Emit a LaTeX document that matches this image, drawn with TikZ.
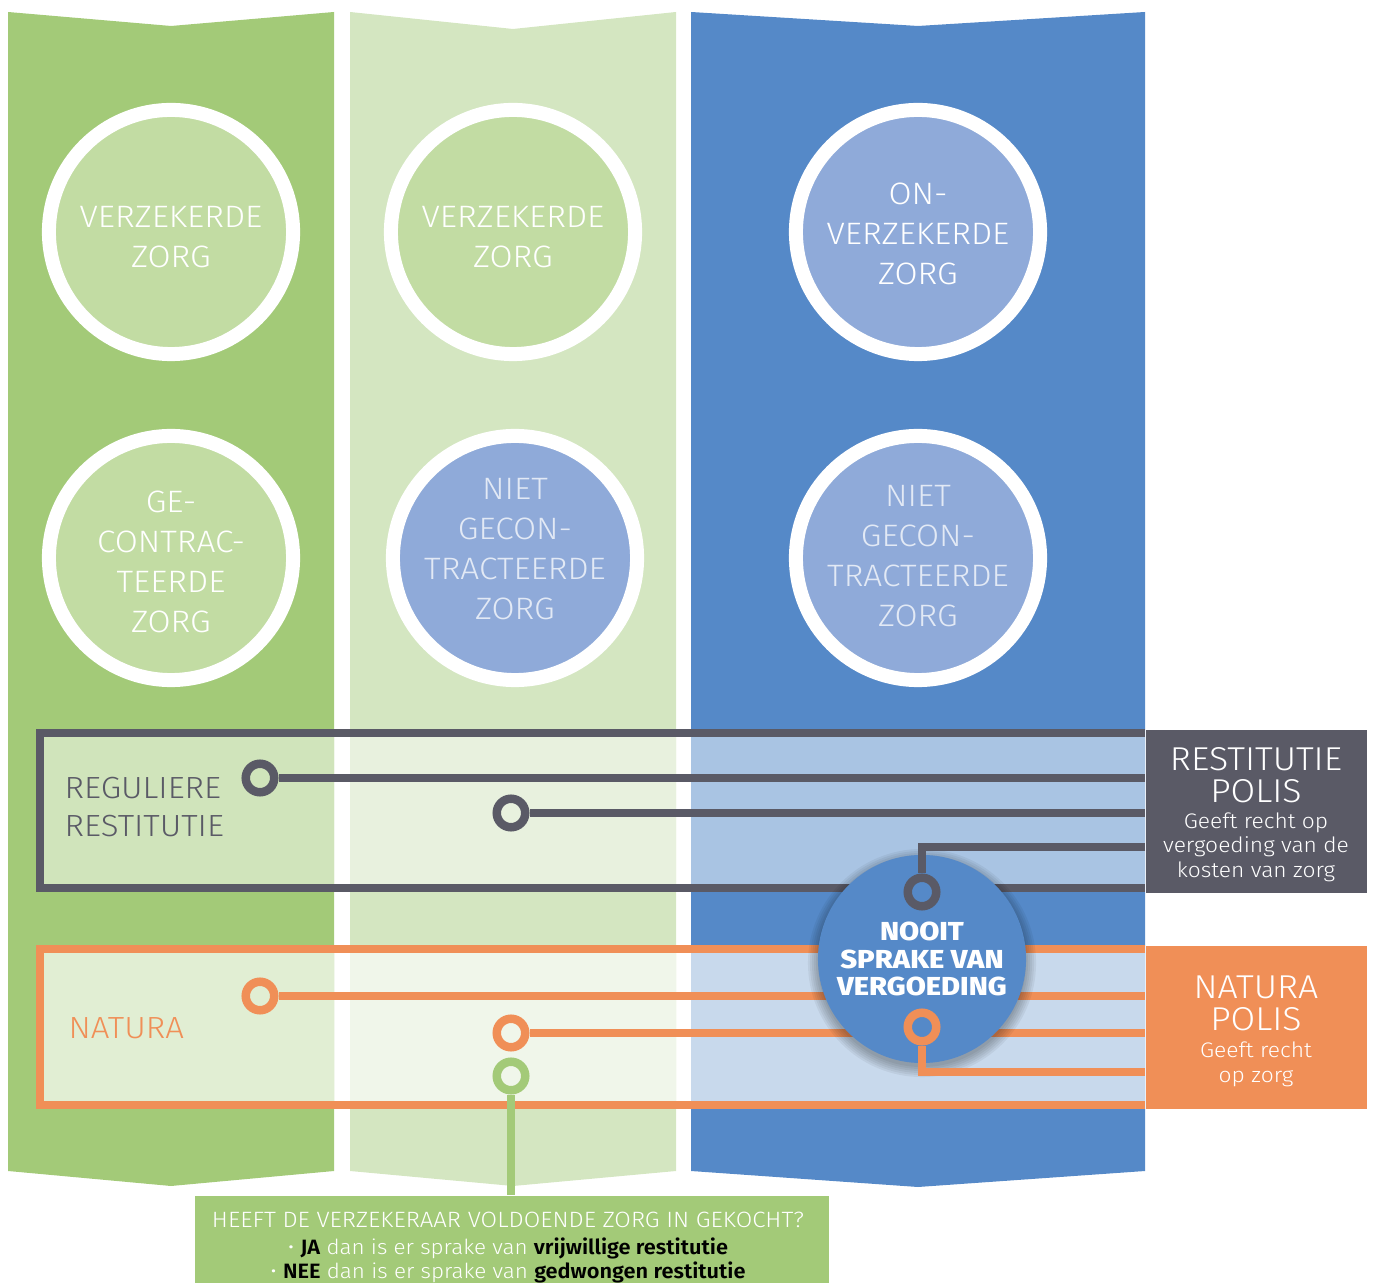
\documentclass[tikz,border=0pt]{standalone}
\usepackage{fontspec}
\setmainfont[FakeStretch=1.1]{Fira Sans}
\IfFontExistsTF{Fira Sans Book}
  {\newfontfamily\dunfont[FakeStretch=1.08]{Fira Sans Book}}
  {\IfFontExistsTF{Fira Sans Light}
    {\newfontfamily\dunfont[FakeStretch=1.08]{Fira Sans Light}}
    {\newfontfamily\dunfont[FakeStretch=1.08]{Fira Sans}}}
\IfFontExistsTF{Fira Sans ExtraBold}
  {\newfontfamily\zwaarfont[FakeStretch=1.12]{Fira Sans ExtraBold}}
  {\newfontfamily\zwaarfont[FakeStretch=1.12]{Fira Sans Bold}}
\IfFontExistsTF{Fira Sans SemiBold}
  {\newfontfamily\halfvetfont[FakeStretch=1.05]{Fira Sans SemiBold}}
  {\newfontfamily\halfvetfont[FakeStretch=1.05]{Fira Sans Bold}}

\definecolor{groen}{HTML}{A3CA78}
\definecolor{lichtgroen}{HTML}{D4E6C1}
\definecolor{blauw}{HTML}{5589C8}
\definecolor{schijfgroen}{HTML}{C2DCA3}
\definecolor{schijfblauw}{HTML}{8FAAD9}
\definecolor{bleek}{HTML}{E2E9F5}
\definecolor{grijs}{HTML}{5A5A66}
\definecolor{oranje}{HTML}{F08F57}
\definecolor{restA}{HTML}{D0E4BB}
\definecolor{restB}{HTML}{E8F1DE}
\definecolor{restC}{HTML}{A9C4E3}
\definecolor{natA}{HTML}{E1EED3}
\definecolor{natB}{HTML}{F0F6EA}
\definecolor{natC}{HTML}{C8D9EC}

\newcommand{\wit}[1]{\textcolor{white}{#1}}
\newcommand{\zwart}[1]{{\halfvetfont\textcolor{black}{#1}}}

\begin{document}
\begin{tikzpicture}[x=0.01cm, y=-0.01cm,
  schijf/.style={circle, draw=white, line width=0.14cm, minimum size=2.44cm, inner sep=0pt},
  schijftekst/.style={align=center, text=white, font=\dunfont\fontsize{8.8}{11.4}\selectfont},
  ring/.style={circle, draw=#1, line width=0.085cm, minimum size=0.285cm, inner sep=0pt},
  lijn/.style={draw=#1, line width=0.075cm},
  kader/.style={draw=#1, line width=0.08cm},
  polis/.style={anchor=north west, inner sep=0pt, minimum width=2.21cm},
  titel/.style={anchor=base, text=white, font=\dunfont\fontsize{9.4}{11}\selectfont},
  klein/.style={anchor=base, text=white, font=\dunfont\fontsize{6.0}{7}\selectfont},
  links/.style={anchor=base west, inner sep=0pt, font=\dunfont\fontsize{8.7}{11}\selectfont},
  vraagtekst/.style={anchor=base, font=\dunfont\fontsize{5.9}{7}\selectfont},
]
\useasboundingbox (0,0) rectangle (1376,1283);

% de drie kolommen
\fill[groen] (8,12) -- (171,26) -- (334,12) -- (334,1171) -- (171,1186) -- (8,1171) -- cycle;
\fill[lichtgroen] (350,12) -- (513,29) -- (676,12) -- (676,1171) -- (513,1186) -- (350,1171) -- cycle;
\fill[blauw] (691,12) -- (918,26) -- (1145,12) -- (1145,1171) -- (918,1187) -- (691,1171) -- cycle;

% schijven
\node[schijf, fill=schijfgroen] (vz1) at (171,232) {};
\node[schijf, fill=schijfgroen] (vz2) at (513,232) {};
\node[schijf, fill=schijfblauw] (onvz) at (918,232) {};
\node[schijf, fill=schijfgroen] (gec) at (171,558) {};
\node[schijf, fill=schijfblauw] (ngec1) at (515,558) {};
\node[schijf, fill=schijfblauw] (ngec2) at (918,558) {};

\node[schijftekst] (t-vz1) at (171,237) {VERZEKERDE\\ZORG};
\node[schijftekst] (t-vz2) at (513,237) {VERZEKERDE\\ZORG};
\node[schijftekst] (t-onvz) at (918,234) {ON-\\VERZEKERDE\\ZORG};
\node[schijftekst] (t-gec) at (171,562) {GE-\\CONTRAC-\\TEERDE\\ZORG};
\node[schijftekst, text=bleek] (t-ngec1) at (515,549) {NIET\\GECON-\\TRACTEERDE\\ZORG};
\node[schijftekst, text=bleek] (t-ngec2) at (918,556) {NIET\\GECON-\\TRACTEERDE\\ZORG};

% band restitutie
\fill[restA] (40,733) rectangle (334,888);
\fill[restB] (350,733) rectangle (676,888);
\fill[restC] (691,733) rectangle (1145,888);
\draw[kader=grijs] (1145,733) -- (40,733) -- (40,888) -- (1145,888);

% band natura
\fill[natA] (40,949) rectangle (334,1105);
\fill[natB] (350,949) rectangle (676,1105);
\fill[natC] (691,949) rectangle (1145,1105);
\draw[kader=oranje] (1145,949) -- (40,949) -- (40,1105) -- (1145,1105);

% polisvakken rechts
\node[polis, fill=grijs, minimum height=1.63cm] (respol) at (1145,729) {};
\node[polis, fill=oranje, minimum height=1.63cm] (natpol) at (1145,945) {};

\node[titel] (rp1) at (1256,771) {RESTITUTIE};
\node[titel] (rp2) at (1256,803) {POLIS};
\foreach \t [count=\i] in {Geeft recht op, vergoeding van de, kosten van zorg}
  \node[klein] (rk\i) at (1256,805+24*\i) {\t};

\node[titel] (np1) at (1256,998) {NATURA};
\node[titel] (np2) at (1256,1030) {POLIS};
\node[klein] (nk1) at (1256,1057) {Geeft recht};
\node[klein] (nk2) at (1256,1082) {op zorg};

% teksten links
\node[links, text=grijs] (reg1) at (64,798) {REGULIERE};
\node[links, text=grijs] (reg2) at (64,837) {RESTITUTIE};
\node[links, text=oranje] (nat) at (68,1038) {NATURA};

% lijnen naar de polissen
\node[ring=grijs] (rg1) at (260,778) {};
\node[ring=grijs] (rg2) at (511,813) {};
\draw[lijn=grijs] (rg1) -- (rg1 -| respol.west);
\draw[lijn=grijs] (rg2) -- (rg2 -| respol.west);

\node[ring=oranje] (ro1) at (260,996) {};
\node[ring=oranje] (ro2) at (511,1033) {};
\draw[lijn=oranje] (ro1) -- (ro1 -| natpol.west);
\draw[lijn=oranje] (ro2) -- (ro2 -| natpol.west);

% nooit vergoeding, met zachte schaduw
\foreach \r in {1.04,1.06,1.08,1.10,1.12,1.14}
  \fill[black, opacity=0.05] (922,963) circle [radius=\r cm];
\node[circle, fill=blauw, minimum size=2.08cm, inner sep=0pt, align=center, text=white,
  font=\zwaarfont\fontsize{7.4}{7.8}\selectfont] (nooit) at (922,959)
  {NOOIT\\SPRAKE VAN\\VERGOEDING};

\coordinate (kr) at (1145,847);
\coordinate (ko) at (1145,1072);
\node[ring=grijs] (rg3) at (922,892) {};
\node[ring=oranje] (ro3) at (922,1027) {};
\draw[lijn=grijs] (rg3) |- (kr);
\draw[lijn=oranje] (ro3) |- (ko);

% vraag onderaan
\node[anchor=north west, fill=groen, minimum width=6.34cm, minimum height=1cm, inner sep=0pt] (vraag) at (194,1195) {};
\node[ring=groen] (rgr) at (511,1076) {};
\draw[lijn=groen] (rgr) -- (rgr |- vraag.north);

\node[vraagtekst, text=white, font=\dunfont\fontsize{6.3}{7}\selectfont] (v1) at (508,1227) {HEEFT DE VERZEKERAAR VOLDOENDE ZORG IN GEKOCHT?};
\node[vraagtekst] (v2) at (508,1254) {\wit{\textbullet} \zwart{JA} \wit{dan is er sprake van} \zwart{vrijwillige restitutie}};
\node[vraagtekst] (v3) at (508,1278) {\wit{\textbullet} \zwart{NEE} \wit{dan is er sprake van} \zwart{gedwongen restitutie}};

\end{tikzpicture}
\end{document}
